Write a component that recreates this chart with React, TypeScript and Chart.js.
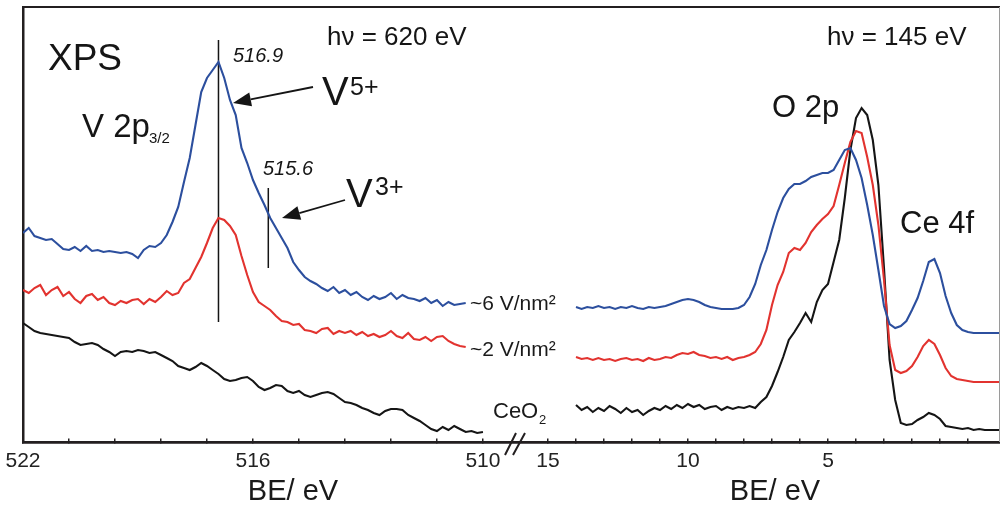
import React, { useEffect, useRef } from 'react';
import { Chart, registerables } from 'chart.js';

Chart.register(...registerables);

// ---------- Data: V 2p region (binding energy, eV) ----------
const leftBE = [
  522.0, 521.85, 521.7, 521.55, 521.4, 521.25, 521.1, 520.95, 520.8, 520.65,
  520.5, 520.35, 520.2, 520.05, 519.9, 519.75, 519.6, 519.45, 519.3, 519.15,
  519.0, 518.85, 518.7, 518.55, 518.4, 518.25, 518.1, 517.95, 517.8, 517.65,
  517.5, 517.35, 517.2, 517.05, 516.9, 516.75, 516.6, 516.45, 516.3, 516.15,
  516.0, 515.85, 515.7, 515.55, 515.4, 515.25, 515.1, 514.95, 514.8, 514.65,
  514.5, 514.35, 514.2, 514.05, 513.9, 513.75, 513.6, 513.45, 513.3, 513.15,
  513.0, 512.85, 512.7, 512.55, 512.4, 512.25, 512.1, 511.95, 511.8, 511.65,
  511.5, 511.35, 511.2, 511.05, 510.9, 510.75, 510.6, 510.45, 510.3, 510.15,
  510.0,
];
const v6Left = [
  209, 214, 206, 204, 202, 203, 198, 193, 192, 195,
  191, 196, 191, 192, 190, 191, 190, 189, 190, 188,
  184, 192, 196, 195, 199, 207, 220, 235, 260, 284,
  317, 350, 364, 372, 380, 364, 342, 327, 294, 279,
  262, 249, 237, 224, 214, 204, 194, 180, 172, 165,
  161, 158, 154, 151, 155, 149, 152, 147, 150, 145,
  142, 146, 143, 145, 149, 143, 147, 144, 143, 141,
  144, 139, 142, 136, 140, 137, 138, 139, null, null,
  null,
];
const v2Left = [
  152, 149, 154, 157, 147, 152, 155, 146, 150, 143,
  139, 146, 148, 142, 145, 139, 137, 141, 139, 142,
  143, 138, 143, 140, 145, 151, 147, 149, 159, 163,
  174, 185, 199, 214, 224, 222, 216, 207, 186, 167,
  150, 140, 136, 132, 126, 121, 120, 117, 118, 112,
  111, 109, 113, 114, 108, 111, 109, 111, 107, 110,
  106, 108, 105, 107, 111, 106, 104, 109, 103, 102,
  105, 101, 105, 106, 101, 98, 96, 95, null, null,
  null,
];
const ceo2Left = [
  119, 115, 111, 109, 108, 107, 106, 105, 104, 100,
  97, 98, 99, 97, 93, 90, 86, 90, 91, 90,
  92, 91, 89, 90, 87, 84, 81, 76, 74, 72,
  75, 79, 76, 72, 68, 63, 61, 62, 64, 65,
  61, 55, 52, 54, 57, 56, 51, 49, 51, 47,
  45, 47, 49, 50, 48, 44, 40, 39, 37, 34,
  32, 29, 27, 31, 33, 33, 32, 27, 24, 21,
  17, 13, 11, 15, 12, 16, 13, 10, 11, 9,
  10,
];

// ---------- Data: valence band region (binding energy, eV) ----------
const rightBE = [
  14.0, 13.8, 13.6, 13.4, 13.2, 13.0, 12.8, 12.6, 12.4, 12.2,
  12.0, 11.8, 11.6, 11.4, 11.2, 11.0, 10.8, 10.6, 10.4, 10.2,
  10.0, 9.8, 9.6, 9.4, 9.2, 9.0, 8.8, 8.6, 8.4, 8.2,
  8.0, 7.8, 7.6, 7.4, 7.2, 7.0, 6.8, 6.6, 6.4, 6.2,
  6.0, 5.8, 5.6, 5.4, 5.2, 5.0, 4.8, 4.6, 4.4, 4.2,
  4.0, 3.8, 3.6, 3.4, 3.2, 3.0, 2.8, 2.6, 2.4, 2.2,
  2.0, 1.8, 1.6, 1.4, 1.2, 1.0, 0.8, 0.6, 0.4, 0.2,
  0.0, -0.2, -0.4, -0.6, -0.8, -1.0, -1.2,
];
const v6Right = [
  135, 133, 135, 134, 136, 134, 135, 133, 135, 134,
  136, 134, 133, 135, 134, 135, 136, 138, 140, 142,
  143, 142, 140, 137, 135, 134, 133, 133, 133, 134,
  137, 145, 158, 177, 192, 212, 230, 244, 253, 258,
  258, 261, 265, 267, 269, 269, 272, 282, 292, 294,
  282, 264, 237, 207, 172, 136, 118, 114, 116, 121,
  132, 144, 161, 180, 183, 169, 146, 129, 117, 112,
  110, 109, 109, 109, 109, 109, 109,
];
const v2Right = [
  85, 83, 84, 82, 84, 82, 83, 81, 83, 84,
  82, 83, 81, 84, 82, 83, 85, 84, 87, 89,
  88, 90, 87, 86, 84, 85, 83, 85, 82, 84,
  85, 87, 90, 98, 112, 137, 157, 170, 189, 194,
  192, 199, 210, 217, 223, 228, 236, 257, 279, 300,
  311, 309, 285, 257, 217, 162, 97, 72, 69, 71,
  76, 85, 96, 102, 98, 87, 74, 66, 63, 62,
  61, 60, 60, 60, 60, 60, 60,
];
const ceo2Right = [
  37, 32, 35, 30, 34, 31, 36, 33, 29, 34,
  30, 32, 27, 31, 34, 32, 36, 33, 37, 34,
  38, 35, 37, 33, 35, 36, 32, 35, 33, 35,
  34, 36, 34, 40, 45, 56, 70, 85, 102, 110,
  119, 129, 120, 140, 152, 158, 180, 202, 244, 292,
  324, 334, 327, 302, 257, 174, 82, 42, 19, 17,
  18, 22, 25, 29, 27, 23, 16, 15, 14, 13,
  14, 12, 13, 12, 12, 12, 12,
];

// peak position markers (BE, intensity from / to)
const markerV5 = { be: 516.9, from: 402, to: 120 };
const markerV3 = { be: 515.6, from: 254, to: 174 };

// axis ticks
const leftTicks = [522, 520.8, 519.6, 518.4, 517.2, 516, 514.8, 513.6, 512.4, 511.2, 510];
const leftTickLabels = [522, 516, 510];
const rightTicks = [15, 14, 13, 12, 11, 10, 9, 8, 7, 6, 5, 4, 3, 2, 1, 0];
const rightTickLabels = [15, 10, 5];

const BLUE = '#2c4f9e';
const RED = '#e2332f';
const BLACK = '#151515';
const AXIS = '#231f20';
const FONT = '"Liberation Sans", Arial, Helvetica, sans-serif';

const pts = (xs: number[], ys: (number | null)[]) => xs.map((x, i) => ({ x, y: ys[i] }));

function drawArrow(ctx: CanvasRenderingContext2D, x1: number, y1: number, x2: number, y2: number) {
  const ang = Math.atan2(y2 - y1, x2 - x1);
  const hl = 18;
  const hw = 7;
  const bx = x2 - hl * Math.cos(ang);
  const by = y2 - hl * Math.sin(ang);
  ctx.beginPath();
  ctx.moveTo(x1, y1);
  ctx.lineTo(bx, by);
  ctx.lineWidth = 1.8;
  ctx.stroke();
  ctx.beginPath();
  ctx.moveTo(x2, y2);
  ctx.lineTo(bx + hw * Math.sin(ang), by - hw * Math.cos(ang));
  ctx.lineTo(bx - hw * Math.sin(ang), by + hw * Math.cos(ang));
  ctx.closePath();
  ctx.fill();
}

const annotations = {
  id: 'annotations',
  afterDraw(chart: any) {
    const ctx: CanvasRenderingContext2D = chart.ctx;
    const area = chart.chartArea;
    ctx.save();
    // faint right frame edge
    ctx.strokeStyle = '#9a9a9a';
    ctx.lineWidth = 1;
    ctx.beginPath();
    ctx.moveTo(area.right - 0.5, area.top);
    ctx.lineTo(area.right - 0.5, area.bottom);
    ctx.stroke();

    ctx.fillStyle = BLACK;
    ctx.strokeStyle = BLACK;
    ctx.textBaseline = 'alphabetic';
    const txt = (s: string, x: number, y: number, size: number, align: CanvasTextAlign = 'left', style = '') => {
      ctx.font = `${style} ${size}px ${FONT}`;
      ctx.textAlign = align;
      ctx.fillText(s, x, y);
    };
    txt('XPS', 48, 70, 37);
    txt('h\u03BD = 620 eV', 327, 45, 26);
    txt('h\u03BD = 145 eV', 827, 45, 26);
    txt('516.9', 233, 62, 20, 'left', 'italic');
    txt('515.6', 263, 175, 20, 'left', 'italic');
    txt('V 2p', 82, 137, 33);
    txt('3/2', 149, 143, 15);
    txt('V', 322, 105, 40);
    txt('5+', 350, 95, 25);
    txt('V', 346, 207, 40);
    txt('3+', 375, 195, 25);
    txt('O 2p', 772, 117, 31);
    txt('Ce 4f', 900, 233, 31);
    ctx.fillStyle = '#1a1a1a';
    txt('~6 V/nm\u00B2', 470, 310, 21);
    txt('~2 V/nm\u00B2', 470, 356, 21);
    txt('CeO', 493, 418, 22);
    txt('2', 539, 424, 13);
    txt('BE/ eV', 293, 500, 29, 'center');
    txt('BE/ eV', 775, 500, 29, 'center');
    txt('0', 1005, 468, 21, 'center');
    ctx.fillStyle = BLACK;
    drawArrow(ctx, 313, 87, 233, 103);
    drawArrow(ctx, 345, 200, 282, 218);
    // axis break
    ctx.strokeStyle = AXIS;
    ctx.lineWidth = 2;
    ctx.beginPath();
    ctx.moveTo(505, 455);
    ctx.lineTo(516, 433);
    ctx.moveTo(513, 455);
    ctx.lineTo(525, 433);
    ctx.stroke();
    ctx.restore();
  },
};

const lineDs = (label: string, data: any[], color: string, axis: string, width = 2.1) => ({
  label,
  data,
  borderColor: color,
  backgroundColor: color,
  borderWidth: width,
  pointRadius: 0,
  tension: 0,
  fill: false,
  spanGaps: false,
  xAxisID: axis,
  yAxisID: 'y',
});

const noPad = (scale: any) => {
  scale.paddingLeft = 0;
  scale.paddingRight = 0;
};

export default function App() {
  const ref = useRef<HTMLCanvasElement>(null);
  useEffect(() => {
    if (!ref.current) return;
    const tickFont = { family: FONT, size: 21 };
    const chart = new Chart(ref.current, {
      type: 'line',
      data: {
        datasets: [
          lineDs('~6 V/nm² (V 2p)', pts(leftBE, v6Left), BLUE, 'xL'),
          lineDs('~2 V/nm² (V 2p)', pts(leftBE, v2Left), RED, 'xL'),
          lineDs('CeO2 (V 2p)', pts(leftBE, ceo2Left), BLACK, 'xL'),
          lineDs('~6 V/nm² (VB)', pts(rightBE, v6Right), BLUE, 'xR'),
          lineDs('~2 V/nm² (VB)', pts(rightBE, v2Right), RED, 'xR'),
          lineDs('CeO2 (VB)', pts(rightBE, ceo2Right), BLACK, 'xR'),
          lineDs('516.9', [{ x: markerV5.be, y: markerV5.from }, { x: markerV5.be, y: markerV5.to }], BLACK, 'xL', 1.5),
          lineDs('515.6', [{ x: markerV3.be, y: markerV3.from }, { x: markerV3.be, y: markerV3.to }], BLACK, 'xL', 1.5),
        ],
      },
      options: {
        responsive: false,
        animation: false,
        devicePixelRatio: 1,
        layout: { padding: { left: 23, top: 7, right: 0, bottom: 65 } },
        plugins: { legend: { display: false }, tooltip: { enabled: false } },
        scales: {
          y: {
            type: 'linear',
            position: 'left',
            min: 0,
            max: 435,
            ticks: { display: false },
            grid: { display: false, drawTicks: false },
            border: { display: true, color: AXIS, width: 2.5 },
          },
          xTop: {
            type: 'linear',
            position: 'top',
            ticks: { display: false },
            grid: { display: false, drawTicks: false },
            border: { display: true, color: AXIS, width: 2 },
            afterFit: noPad,
          },
          xL: {
            type: 'linear',
            position: { y: 0 } as any,
            reverse: true,
            min: 496.51,
            max: 522,
            afterFit: noPad,
            afterBuildTicks: (scale: any) => {
              scale.ticks = leftTicks.map((v) => ({ value: v }));
            },
            ticks: {
              autoSkip: false,
              maxRotation: 0,
              padding: 12,
              color: '#222',
              font: tickFont,
              callback: (v: any) => (leftTickLabels.some((l) => Math.abs(l - Number(v)) < 1e-6) ? String(v) : ''),
            },
            grid: { display: true, drawOnChartArea: false, drawTicks: true, tickLength: -5, color: AXIS, lineWidth: 1.5 },
            border: { display: true, color: AXIS, width: 2.5 },
          },
          xR: {
            type: 'linear',
            position: { y: 0 } as any,
            reverse: true,
            min: -1.143,
            max: 33.75,
            afterFit: noPad,
            afterBuildTicks: (scale: any) => {
              scale.ticks = rightTicks.map((v) => ({ value: v }));
            },
            ticks: {
              autoSkip: false,
              maxRotation: 0,
              padding: 12,
              color: '#222',
              font: tickFont,
              callback: (v: any) => (rightTickLabels.some((l) => Math.abs(l - Number(v)) < 1e-6) ? String(v) : ''),
            },
            grid: { display: true, drawOnChartArea: false, drawTicks: true, tickLength: -5, color: AXIS, lineWidth: 1.5 },
            border: { display: true, color: AXIS, width: 2.5 },
          },
        },
      } as any,
      plugins: [annotations],
    });
    return () => chart.destroy();
  }, []);
  return (
    <div style={{ position: 'fixed', left: 0, top: 0, width: 1000, height: 507, background: '#fff' }}>
      <canvas ref={ref} width={1000} height={507} style={{ display: 'block', width: 1000, height: 507 }} />
    </div>
  );
}
